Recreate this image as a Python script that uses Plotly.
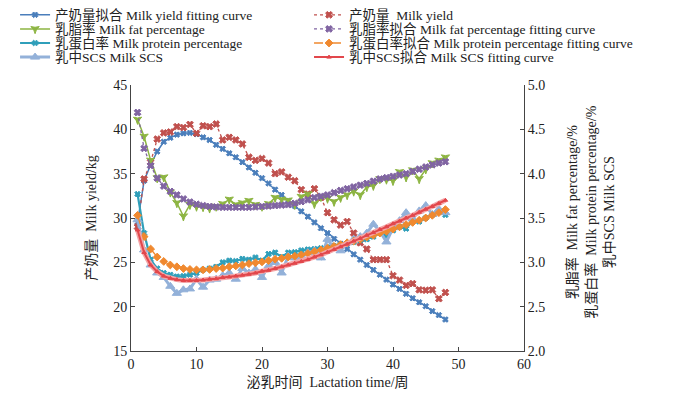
import plotly.graph_objects as go

weeks = list(range(1, 49))

# Milk yield (kg) - left axis
milk_yield = [29.0, 34.4, 36.3, 38.9, 39.6, 39.7, 40.3, 40.2, 40.55, 39.55, 40.4, 40.3, 40.6, 38.8, 39.1, 38.8,
              38.35, 36.85, 36.5, 36.7, 36.2, 35.0, 35.2, 34.6, 34.2, 33.2, 32.7, 33.3, 32.3, 30.6, 29.8, 29.2,
              29.6, 28.3, 27.2, 26.5, 25.3, 25.3, 25.3, 23.5, 23.0, 22.4, 22.6, 21.9, 21.85, 21.9, 20.9, 21.6]
milk_yield_fit = [29.5, 34.2, 36.0, 37.5, 38.6, 39.05, 39.4, 39.55, 39.6, 39.45, 39.1, 38.8, 38.25, 37.8, 37.3, 36.85,
                  36.3, 35.7, 35.1, 34.5, 33.9, 33.2, 32.6, 31.95, 31.35, 30.75, 30.15, 29.5, 28.85, 28.3, 27.65, 27.1,
                  26.5, 25.9, 25.3, 24.7, 24.15, 23.6, 23.05, 22.5, 22.0, 21.45, 20.95, 20.5, 20.05, 19.5, 19.05, 18.55]

# Right axis (%)
fat = [4.61, 4.42, 4.15, 3.95, 3.96, 3.79, 3.67, 3.52, 3.65, 3.63, 3.625, 3.61, 3.63, 3.66, 3.71, 3.65,
       3.67, 3.695, 3.65, 3.63, 3.66, 3.73, 3.71, 3.70, 3.65, 3.74, 3.77, 3.66, 3.74, 3.72, 3.685, 3.73,
       3.76, 3.80, 3.76, 3.85, 3.865, 3.94, 3.935, 3.92, 4.02, 3.96, 4.04, 3.94, 4.05, 4.12, 4.15, 4.185]
fat_fit = [4.69, 4.285, 4.09, 3.95, 3.86, 3.80, 3.76, 3.715, 3.68, 3.655, 3.64, 3.63, 3.625, 3.62, 3.62, 3.62,
           3.62, 3.62, 3.625, 3.63, 3.635, 3.64, 3.645, 3.65, 3.665, 3.685, 3.705, 3.73, 3.745, 3.76, 3.785, 3.81,
           3.83, 3.85, 3.87, 3.89, 3.915, 3.94, 3.955, 3.97, 3.985, 4.00, 4.025, 4.05, 4.075, 4.10, 4.12, 4.135]
protein = [3.77, 3.33, 3.03, 2.93, 2.88, 2.86, 2.84, 2.845, 2.86, 2.88, 2.915, 2.93, 2.95, 3.00, 3.02, 3.015,
           3.04, 3.03, 3.055, 3.02, 3.095, 3.11, 3.06, 3.11, 3.115, 3.135, 3.145, 3.15, 3.16, 3.17, 3.185, 3.20,
           3.215, 3.23, 3.25, 3.26, 3.29, 3.33, 3.30, 3.36, 3.40, 3.38, 3.47, 3.46, 3.50, 3.535, 3.57, 3.535]
protein_fit = [3.53, 3.29, 3.15, 3.06, 3.01, 2.97, 2.95, 2.93, 2.92, 2.915, 2.915, 2.92, 2.93, 2.935, 2.95, 2.96,
               2.97, 2.985, 2.995, 3.005, 3.02, 3.035, 3.045, 3.06, 3.07, 3.085, 3.10, 3.12, 3.14, 3.16, 3.18, 3.20,
               3.22, 3.24, 3.26, 3.285, 3.305, 3.33, 3.35, 3.375, 3.40, 3.425, 3.45, 3.475, 3.50, 3.53, 3.56, 3.595]
scs = [3.48, 3.14, 2.97, 2.88, 2.83, 2.73, 2.65, 2.69, 2.70, 2.81, 2.72, 2.80, 2.81, 2.85, 2.88, 2.81,
       2.93, 2.88, 2.92, 2.83, 2.96, 3.00, 2.88, 3.07, 3.05, 3.05, 3.11, 3.13, 3.05, 3.26, 3.16, 3.13,
       3.22, 3.26, 3.29, 3.33, 3.43, 3.35, 3.23, 3.39, 3.47, 3.56, 3.49, 3.58, 3.64, 3.54, 3.60, 3.56]
scs_fit = [3.365, 3.11, 2.97, 2.895, 2.845, 2.82, 2.805, 2.795, 2.795, 2.795, 2.80, 2.81, 2.815, 2.83, 2.835, 2.845,
           2.855, 2.865, 2.88, 2.90, 2.91, 2.93, 2.95, 2.97, 2.99, 3.01, 3.03, 3.06, 3.085, 3.115, 3.145, 3.175,
           3.205, 3.24, 3.27, 3.305, 3.335, 3.37, 3.40, 3.435, 3.465, 3.50, 3.53, 3.565, 3.60, 3.63, 3.665, 3.70]

FONT = "Liberation Serif, Noto Sans CJK SC, serif"

legend_x = [-0.295, 0.453]
legend_y = [1.263, 1.210, 1.157, 1.104]

fig = go.Figure()

def add(y, name, color, dash, symbol, msize, width, yaxis, leg):
    fig.add_trace(go.Scatter(
        x=weeks, y=y, name=name, mode="lines+markers", yaxis=yaxis, legend=leg,
        line=dict(color=color, width=width, dash=dash),
        marker=dict(symbol=symbol, size=msize, color=color, line=dict(color=color, width=1)),
    ))

add(milk_yield_fit, "产奶量拟合 Milk yield fitting curve", "#4a7ebb", "solid", "x", 5, 1.5, "y", "legend")
add(fat, "乳脂率 Milk fat percentage", "#8db542", "solid", "star-triangle-down", 6, 1.5, "y2", "legend2")
add(protein, "乳蛋白率 Milk protein percentage", "#2f9fba", "solid", "x", 5, 2.2, "y2", "legend3")
add(scs, "乳中SCS Milk SCS", "#93b1d9", "solid", "triangle-up", 8, 3, "y2", "legend4")
add(milk_yield, "产奶量  Milk yield", "#c0504d", "dot", "x", 6, 1.3, "y", "legend5")
add(fat_fit, "乳脂率拟合 Milk fat percentage fitting curve", "#8064a2", "dot", "x", 6, 1.3, "y2", "legend6")
add(protein_fit, "乳蛋白率拟合 Milk protein percentage fitting curve", "#f0892f", "dash", "diamond", 6, 1.3, "y2", "legend7")
# SCS fitting curve: pale halo underneath, red line on top
fig.add_trace(go.Scatter(x=weeks, y=scs_fit, yaxis="y2", mode="lines", showlegend=False,
                         line=dict(color="#f4a5a7", width=5), hoverinfo="skip"))
add(scs_fit, "乳中SCS拟合 Milk SCS fitting curve", "#e2474c", "solid", "triangle-up", 4, 2, "y2", "legend8")

axis_common = dict(showline=True, linecolor="#444", linewidth=1, ticks="inside", ticklen=4,
                   tickcolor="#444", showgrid=False, zeroline=False,
                   tickfont=dict(family=FONT, size=14, color="#222"))

legends = {}
names = ["legend"] + ["legend%d" % i for i in range(2, 9)]
for i, nm in enumerate(names):
    col, row = divmod(i, 4)
    legends[nm] = dict(x=legend_x[col], y=legend_y[row], xanchor="left", yanchor="middle",
                       orientation="h", font=dict(family=FONT, size=13.5, color="#222"),
                       bgcolor="rgba(0,0,0,0)", itemwidth=30)

# the page body adds an 8px offset, so margins are shifted to keep the plot in place
fig.update_layout(
    width=700, height=394,
    margin=dict(l=123, r=184, t=77, b=51, autoexpand=False),
    paper_bgcolor="white", plot_bgcolor="white",
    font=dict(family=FONT, size=13, color="#222"),
    xaxis=dict(range=[0, 60], dtick=10, **axis_common,
               title=dict(text="泌乳时间  Lactation time/周", font=dict(family=FONT, size=14), standoff=6)),
    yaxis=dict(range=[15, 45], dtick=5, **axis_common,
               title=dict(text="产奶量  Milk yield/kg", font=dict(family=FONT, size=14), standoff=13)),
    yaxis2=dict(range=[2.0, 5.0], dtick=0.5, tickformat=".1f", overlaying="y", side="right",
                **axis_common),
    showlegend=True,
    **legends,
)

fig.add_annotation(
    text="乳脂率  Milk fat percentage/%<br>乳蛋白率  Milk protein percentage/%<br>乳中SCS Milk SCS",
    xref="paper", yref="paper", x=1.0, y=0.52, xshift=38, xanchor="left", yanchor="middle",
    textangle=-90, showarrow=False, align="center",
    font=dict(family=FONT, size=14, color="#222"),
)

fig.write_html("out.html")
